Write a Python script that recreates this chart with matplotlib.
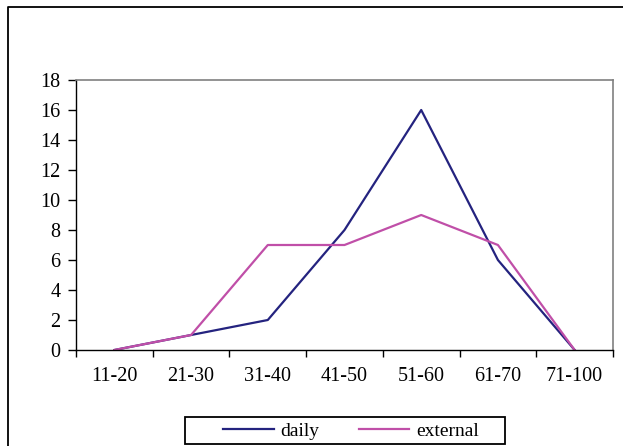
import numpy as np
import matplotlib.pyplot as plt
from matplotlib.lines import Line2D
from matplotlib.patches import Rectangle

categories = ["11-20", "21-30", "31-40", "41-50", "51-60", "61-70", "71-100"]
daily = [0, 1, 2, 8, 16, 6, 0]
external = [0, 1, 7, 7, 9, 7, 0]

plt.rcParams['font.family'] = ['Liberation Serif', 'DejaVu Serif']

W, H = 623, 446
fig = plt.figure(figsize=(W / 100, H / 100), dpi=100)

# plot area in pixels: left 76, right 613, top 80, bottom 350
ax = fig.add_axes([76 / W, 1 - 350 / H, (613 - 76) / W, (350 - 80) / H])

x = np.arange(len(categories))
l1, = ax.plot(x, daily, color='#24237f', linewidth=1.6)
l2, = ax.plot(x, external, color='#c04fa8', linewidth=1.6)

ax.set_xlim(-0.5, len(categories) - 0.5)
ax.set_ylim(0, 18)
ax.set_yticks(range(0, 19, 2))
ax.set_xticks(x)
ax.set_xticklabels(categories)
ax.set_xticks(np.arange(-0.5, len(categories), 1), minor=True)
ax.tick_params(axis='x', which='major', length=0, pad=12, labelsize=14.5)
ax.tick_params(axis='x', which='minor', length=5, width=1, direction='out')
ax.tick_params(axis='y', length=6, width=1, direction='out', pad=5, labelsize=14.5)

for side in ['top', 'right']:
    ax.spines[side].set_color('#808080')
    ax.spines[side].set_linewidth(1.2)
for side in ['left', 'bottom']:
    ax.spines[side].set_color('black')
    ax.spines[side].set_linewidth(1)

# legend box drawn by hand, entries placed inside it
fig.add_artist(Rectangle((185 / W, 1 - 444 / H), (505 - 185) / W, (444 - 417) / H,
                         transform=fig.transFigure, fill=False,
                         edgecolor='black', linewidth=1.3))
leg = fig.legend([l1, l2], ['daily', 'external'], loc='center',
                 bbox_to_anchor=(351 / W, 1 - 431 / H),
                 ncol=2, frameon=False, fontsize=14, handlelength=2.6,
                 handletextpad=0.35, columnspacing=2.0, borderpad=0)

# outer chart frame (cropped at right and bottom)
fig.add_artist(Line2D([8 / W, 8 / W, 1.0], [0.0, 1 - 7 / H, 1 - 7 / H],
                      transform=fig.transFigure, color='black', linewidth=1.3))

fig.savefig('out.png', dpi=100)
